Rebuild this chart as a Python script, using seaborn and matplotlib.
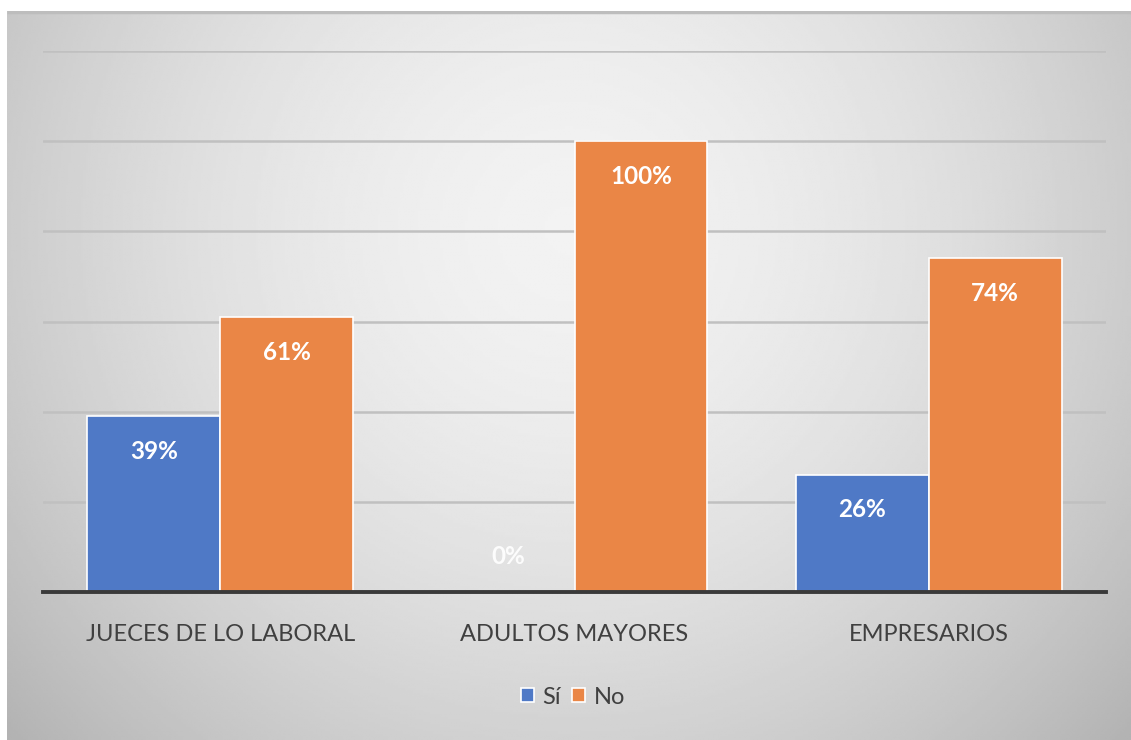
import numpy as np
import pandas as pd
import matplotlib
matplotlib.use("Agg")
import matplotlib.pyplot as plt
import seaborn as sns

# Chart data
categories = ["JUECES DE LO LABORAL", "ADULTOS MAYORES", "EMPRESARIOS"]
series_names = ["Sí", "No"]
si_values = [39, 0, 26]
no_values = [61, 100, 74]
y_ticks = [0, 20, 40, 60, 80, 100, 120]

BLUE = "#4F79C6"
ORANGE = "#EA8646"

sns.set_theme(style="white")
plt.rcParams["font.family"] = ["Lato", "DejaVu Sans"]

df = pd.DataFrame({
    "grupo": categories * 2,
    "respuesta": [series_names[0]] * len(categories) + [series_names[1]] * len(categories),
    "valor": si_values + no_values,
})

W, H = 1131, 740
fig = plt.figure(figsize=(W / 100, H / 100), dpi=100)
fig.patch.set_facecolor("white")

# Soft gray radial gradient panel behind the chart
bg = fig.add_axes([7 / W, 0, 1 - 7 / W, 729 / H])
gh, gw = 300, 450
yy, xx = np.mgrid[0:gh, 0:gw]
u = (xx / (gw - 1) - 0.5) * 2
v = (yy / (gh - 1) - 0.3) * 1.3
r = np.sqrt(u ** 2 + v ** 2)
shade = 0.95 - 0.15 * np.clip(r, 0, 1.6) ** 1.7
bg.imshow(shade, cmap="gray", vmin=0, vmax=1, aspect="auto",
          extent=[0, 1, 0, 1], interpolation="bilinear")
bg.plot([0, 1], [0.998, 0.998], color="#bdbdbd", lw=2.5, solid_capstyle="butt")
bg.set_xlim(0, 1)
bg.set_ylim(0, 1)
bg.axis("off")

# Main plotting area
ax = fig.add_axes([43 / W, 148 / H, 1063 / W, 541 / H])
ax.patch.set_alpha(0)

sns.barplot(data=df, x="grupo", y="valor", hue="respuesta", hue_order=series_names,
            order=categories, palette=[BLUE, ORANGE], width=0.75, saturation=1,
            edgecolor="white", linewidth=1.2, ax=ax)

ax.set_ylim(0, 120)
ax.set_yticks(y_ticks)
ax.yaxis.grid(True, color="#c0c0c0", linewidth=1.8)
ax.set_axisbelow(True)
ax.tick_params(left=False, labelleft=False, bottom=False, pad=17)
for side in ["left", "right", "top"]:
    ax.spines[side].set_visible(False)
ax.spines["bottom"].set_color("#3a3a3a")
ax.spines["bottom"].set_linewidth(2.8)
ax.spines["bottom"].set_zorder(5)
ax.set_xlabel("")
ax.set_ylabel("")
for lbl in ax.get_xticklabels():
    lbl.set_fontsize(17)
    lbl.set_color("#404040")

# Value labels inside the bar ends
for container in ax.containers:
    for bar in container:
        val = bar.get_height()
        if val == 0:
            bar.set_linewidth(0)
        ypos = val - 7.8 if val >= 15 else val + 7.8
        ax.text(bar.get_x() + bar.get_width() / 2, ypos, f"{val:.0f}%",
                ha="center", va="center", color="white", fontsize=17.5,
                fontweight="bold", zorder=6, alpha=0.9 if val == 0 else 1)

handles, labels = ax.get_legend_handles_labels()
ax.get_legend().remove()
fig.legend(handles, labels, loc="center", bbox_to_anchor=(573 / W, 1 - 697 / H),
           ncol=2, frameon=False, fontsize=17, handlelength=0.55, handleheight=0.55,
           handletextpad=0.35, columnspacing=0.5, labelcolor="#404040")

fig.savefig("out.png", dpi=100)
